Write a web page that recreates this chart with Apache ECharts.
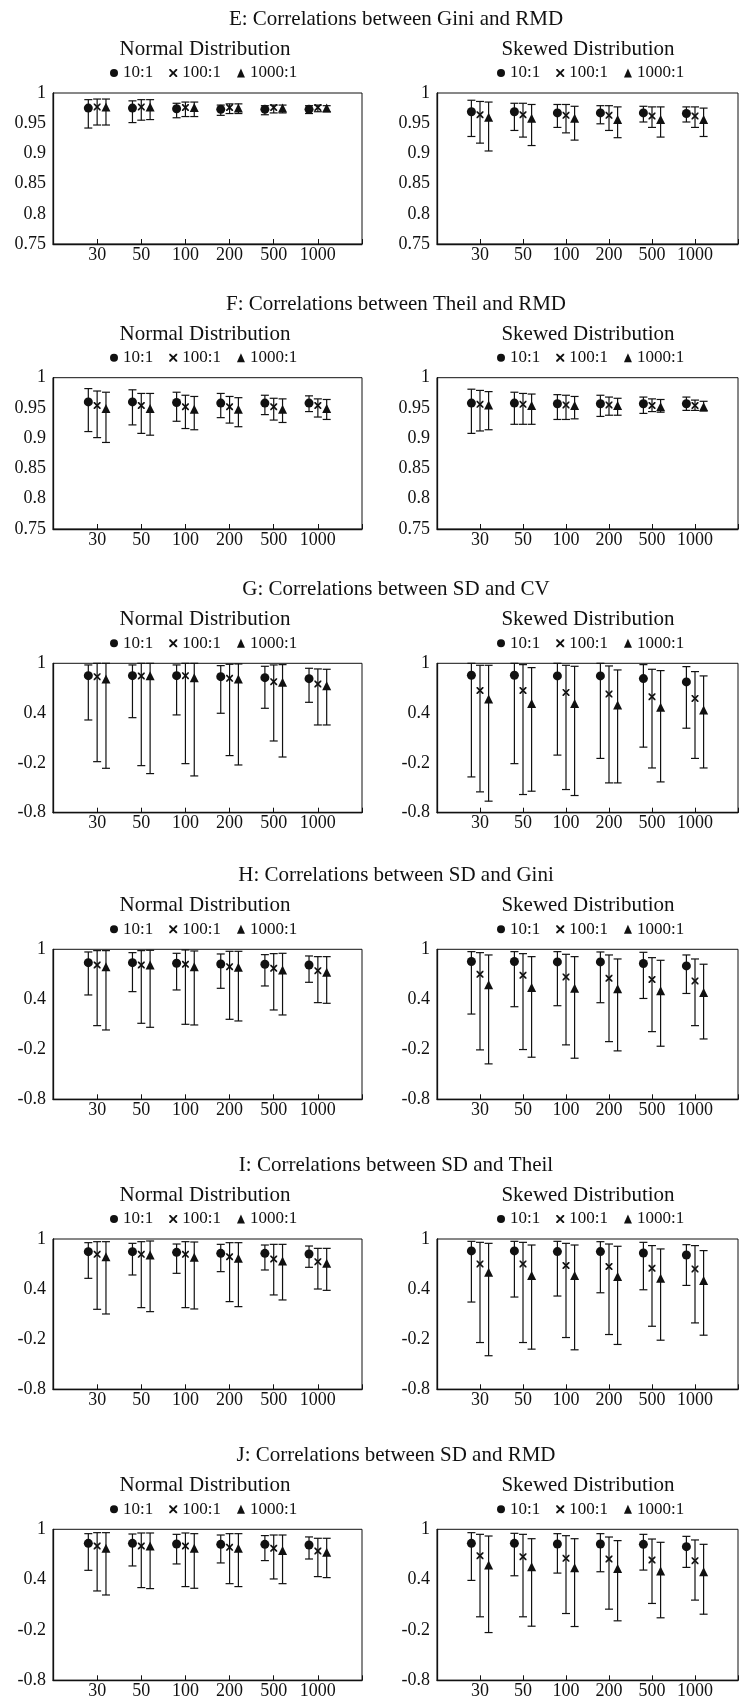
<!DOCTYPE html>
<html>
<head>
<meta charset="utf-8">
<script src="https://cdn.jsdelivr.net/npm/echarts@6/dist/echarts.min.js"></script>
<style>
html,body{margin:0;padding:0;background:#fff;}
#chart{width:741px;height:1705px;}
</style>
</head>
<body>
<div id="chart"></div>
<script>
// ---------- DATA ----------
const CATS = ['30', '50', '100', '200', '500', '1000'];
const RATIOS = ['10:1', '100:1', '1000:1'];
const PANEL_TITLES = ['Normal Distribution', 'Skewed Distribution'];
const SECTION_TITLES = [
  'E: Correlations between Gini and RMD',
  'F: Correlations between Theil and RMD',
  'G: Correlations between SD and CV',
  'H: Correlations between SD and Gini',
  'I: Correlations between SD and Theil',
  'J: Correlations between SD and RMD'
];
const Y_TICKS_HIGH = ['0.75', '0.8', '0.85', '0.9', '0.95', '1'];
const Y_TICKS_WIDE = ['-0.8', '-0.2', '0.4', '1'];

// each entry: [mean, lower, upper] per sample size
const E_N_10   = [[0.975,0.942,0.989],[0.975,0.951,0.987],[0.974,0.959,0.983],[0.973,0.963,0.980],[0.973,0.964,0.979],[0.973,0.966,0.979]];
const E_N_100  = [[0.977,0.947,0.990],[0.977,0.955,0.989],[0.976,0.961,0.985],[0.976,0.966,0.982],[0.976,0.967,0.980],[0.976,0.969,0.980]];
const E_N_1000 = [[0.977,0.947,0.990],[0.977,0.956,0.989],[0.976,0.961,0.985],[0.975,0.966,0.982],[0.975,0.967,0.980],[0.975,0.969,0.979]];
const E_S_10   = [[0.969,0.928,0.988],[0.969,0.938,0.983],[0.967,0.943,0.981],[0.967,0.949,0.979],[0.967,0.952,0.978],[0.966,0.952,0.977]];
const E_S_100  = [[0.964,0.917,0.986],[0.964,0.927,0.983],[0.963,0.934,0.981],[0.963,0.938,0.979],[0.962,0.943,0.977],[0.962,0.943,0.977]];
const E_S_1000 = [[0.960,0.904,0.985],[0.958,0.913,0.981],[0.958,0.922,0.978],[0.956,0.926,0.977],[0.956,0.927,0.977],[0.956,0.928,0.975]];

const F_N_10   = [[0.960,0.911,0.982],[0.960,0.922,0.980],[0.959,0.928,0.976],[0.958,0.934,0.974],[0.958,0.939,0.971],[0.958,0.944,0.970]];
const F_N_100  = [[0.954,0.901,0.978],[0.954,0.908,0.974],[0.952,0.916,0.971],[0.952,0.925,0.969],[0.952,0.930,0.966],[0.954,0.935,0.965]];
const F_N_1000 = [[0.949,0.893,0.976],[0.949,0.905,0.974],[0.948,0.914,0.969],[0.948,0.919,0.967],[0.948,0.926,0.965],[0.949,0.931,0.964]];
const F_S_10   = [[0.958,0.908,0.981],[0.958,0.923,0.976],[0.957,0.931,0.972],[0.957,0.936,0.971],[0.957,0.941,0.968],[0.957,0.946,0.968]];
const F_S_100  = [[0.956,0.912,0.979],[0.956,0.923,0.974],[0.955,0.931,0.971],[0.955,0.938,0.968],[0.954,0.944,0.965],[0.954,0.946,0.963]];
const F_S_1000 = [[0.955,0.914,0.977],[0.954,0.923,0.973],[0.954,0.932,0.969],[0.954,0.938,0.966],[0.952,0.943,0.964],[0.952,0.945,0.961]];

const G_N_10   = [[0.851,0.317,0.980],[0.851,0.345,0.980],[0.851,0.378,0.980],[0.839,0.398,0.972],[0.827,0.458,0.964],[0.815,0.530,0.940]];
const G_N_100  = [[0.839,-0.185,1.0],[0.847,-0.233,1.0],[0.851,-0.209,1.0],[0.819,-0.112,0.988],[0.779,0.064,0.980],[0.751,0.257,0.932]];
const G_N_1000 = [[0.811,-0.265,1.0],[0.851,-0.329,1.0],[0.827,-0.357,1.0],[0.811,-0.225,0.992],[0.771,-0.129,0.984],[0.731,0.257,0.928]];
const G_S_10   = [[0.856,-0.369,1.0],[0.856,-0.209,1.0],[0.848,-0.106,1.0],[0.848,-0.146,1.0],[0.816,-0.010,0.984],[0.776,0.218,0.960]];
const G_S_100  = [[0.673,-0.549,0.976],[0.673,-0.581,0.984],[0.649,-0.521,0.976],[0.629,-0.441,0.968],[0.597,-0.261,0.928],[0.577,-0.146,0.900]];
const G_S_1000 = [[0.569,-0.661,0.976],[0.517,-0.541,0.948],[0.517,-0.593,0.964],[0.497,-0.441,0.920],[0.469,-0.429,0.912],[0.437,-0.261,0.848]];

const H_N_10   = [[0.840,0.452,0.968],[0.840,0.492,0.960],[0.832,0.512,0.952],[0.824,0.532,0.944],[0.820,0.560,0.936],[0.812,0.604,0.920]];
const H_N_100  = [[0.812,0.084,0.984],[0.812,0.112,0.984],[0.820,0.100,0.992],[0.792,0.160,0.976],[0.772,0.272,0.948],[0.744,0.360,0.912]];
const H_N_1000 = [[0.792,0.032,0.984],[0.812,0.064,0.988],[0.792,0.092,0.980],[0.784,0.140,0.976],[0.752,0.212,0.952],[0.724,0.352,0.912]];
const H_S_10   = [[0.853,0.223,0.972],[0.853,0.311,0.972],[0.849,0.323,0.972],[0.849,0.359,0.968],[0.829,0.410,0.964],[0.801,0.470,0.932]];
const H_S_100  = [[0.701,-0.207,0.960],[0.689,-0.203,0.948],[0.669,-0.147,0.940],[0.653,-0.108,0.932],[0.637,0.012,0.900],[0.621,0.084,0.884]];
const H_S_1000 = [[0.574,-0.375,0.932],[0.542,-0.295,0.912],[0.534,-0.307,0.912],[0.526,-0.219,0.884],[0.502,-0.163,0.868],[0.482,-0.076,0.821]];

const I_N_10   = [[0.848,0.529,0.956],[0.848,0.569,0.948],[0.840,0.589,0.940],[0.828,0.609,0.936],[0.828,0.629,0.928],[0.820,0.661,0.916]];
const I_N_100  = [[0.816,0.158,0.968],[0.816,0.178,0.968],[0.816,0.178,0.968],[0.788,0.250,0.956],[0.761,0.330,0.936],[0.729,0.401,0.888]];
const I_N_1000 = [[0.788,0.102,0.968],[0.808,0.130,0.976],[0.781,0.162,0.964],[0.769,0.190,0.956],[0.737,0.270,0.936],[0.709,0.385,0.888]];
const I_S_10   = [[0.857,0.245,0.972],[0.857,0.305,0.972],[0.849,0.317,0.972],[0.849,0.356,0.968],[0.833,0.392,0.960],[0.809,0.444,0.932]];
const I_S_100  = [[0.702,-0.240,0.960],[0.702,-0.240,0.960],[0.682,-0.180,0.948],[0.670,-0.144,0.940],[0.650,-0.045,0.921],[0.642,-0.005,0.921]];
const I_S_1000 = [[0.603,-0.398,0.948],[0.563,-0.319,0.928],[0.563,-0.327,0.928],[0.551,-0.263,0.913],[0.531,-0.212,0.881],[0.503,-0.152,0.861]];

const J_N_10   = [[0.833,0.511,0.948],[0.833,0.563,0.944],[0.825,0.587,0.940],[0.821,0.599,0.932],[0.821,0.627,0.925],[0.813,0.646,0.909]];
const J_N_100  = [[0.801,0.265,0.960],[0.801,0.305,0.956],[0.801,0.317,0.956],[0.785,0.352,0.948],[0.774,0.408,0.932],[0.742,0.436,0.893]];
const J_N_1000 = [[0.774,0.217,0.960],[0.801,0.293,0.956],[0.774,0.297,0.948],[0.774,0.317,0.948],[0.746,0.352,0.932],[0.726,0.424,0.893]];
const J_S_10   = [[0.833,0.391,0.960],[0.833,0.446,0.952],[0.825,0.478,0.948],[0.825,0.494,0.948],[0.821,0.514,0.940],[0.793,0.546,0.916]];
const J_S_100  = [[0.685,-0.043,0.940],[0.673,-0.043,0.940],[0.654,-0.004,0.924],[0.646,0.048,0.908],[0.634,0.116,0.884],[0.626,0.156,0.873]];
const J_S_1000 = [[0.574,-0.231,0.920],[0.554,-0.155,0.888],[0.542,-0.159,0.888],[0.534,-0.091,0.865],[0.502,-0.055,0.845],[0.494,-0.012,0.821]];

// ---------- LAYOUT / STYLE ----------
const FONT = '"Liberation Serif", "DejaVu Serif", serif';
const INK = '#111';
const GRID_TOPS = [93, 377.7, 663.3, 949.3, 1239, 1529.3];
const GRID_HEIGHTS = [151, 151.3, 149.4, 150, 150.3, 151];
const PANEL_LEFT = [53, 437];
const PANEL_WIDTH = 309;
const SUB_X = [205, 588];
const LEG_LEFT = [110, 497];
const OFFSETS = [-0.2, 0, 0.2];
const XPATH = 'path://M0,0 L1.7,0 L5,3.3 L8.3,0 L10,0 L10,1.7 L6.7,5 L10,8.3 L10,10 L8.3,10 L5,6.7 L1.7,10 L0,10 L0,8.3 L3.3,5 L0,1.7 Z';
const SYMBOLS = ['circle', XPATH, 'triangle'];
const SIZES = [9, 7, 9];
const LEG_ICONS = ['circle', XPATH, 'triangle'];

const sections = [
  { title: SECTION_TITLES[0], ticks: Y_TICKS_HIGH, panels: [[E_N_10, E_N_100, E_N_1000], [E_S_10, E_S_100, E_S_1000]] },
  { title: SECTION_TITLES[1], ticks: Y_TICKS_HIGH, panels: [[F_N_10, F_N_100, F_N_1000], [F_S_10, F_S_100, F_S_1000]] },
  { title: SECTION_TITLES[2], ticks: Y_TICKS_WIDE, panels: [[G_N_10, G_N_100, G_N_1000], [G_S_10, G_S_100, G_S_1000]] },
  { title: SECTION_TITLES[3], ticks: Y_TICKS_WIDE, panels: [[H_N_10, H_N_100, H_N_1000], [H_S_10, H_S_100, H_S_1000]] },
  { title: SECTION_TITLES[4], ticks: Y_TICKS_WIDE, panels: [[I_N_10, I_N_100, I_N_1000], [I_S_10, I_S_100, I_S_1000]] },
  { title: SECTION_TITLES[5], ticks: Y_TICKS_WIDE, panels: [[J_N_10, J_N_100, J_N_1000], [J_S_10, J_S_100, J_S_1000]] }
];

function renderErr(params, api) {
  const x = api.value(0), lo = api.value(1), hi = api.value(2);
  const a = api.coord([x, lo]);
  const b = api.coord([x, hi]);
  const cap = 4;
  const st = { stroke: INK, lineWidth: 1.2 };
  return {
    type: 'group',
    children: [
      { type: 'line', shape: { x1: a[0], y1: a[1], x2: b[0], y2: b[1] }, style: st },
      { type: 'line', shape: { x1: a[0] - cap, y1: a[1], x2: a[0] + cap, y2: a[1] }, style: st },
      { type: 'line', shape: { x1: b[0] - cap, y1: b[1], x2: b[0] + cap, y2: b[1] }, style: st }
    ]
  };
}

const grid = [], xAxis = [], yAxis = [], series = [], legend = [], graphic = [];

sections.forEach((sec, si) => {
  const T = GRID_TOPS[si], H = GRID_HEIGHTS[si];
  graphic.push({
    type: 'text', x: 396, y: T - 73.5, silent: true,
    style: { text: sec.title, fontFamily: FONT, fontSize: 21, fill: INK,
             textAlign: 'center', textVerticalAlign: 'middle', align: 'center', verticalAlign: 'middle' }
  });
  const tmin = parseFloat(sec.ticks[0]);
  const tmax = parseFloat(sec.ticks[sec.ticks.length - 1]);
  const tint = Math.round((parseFloat(sec.ticks[1]) - tmin) * 1000) / 1000;
  sec.panels.forEach((panel, pi) => {
    const gi = si * 2 + pi;
    graphic.push({
      type: 'text', x: SUB_X[pi], y: T - 43.5, silent: true,
      style: { text: PANEL_TITLES[pi], fontFamily: FONT, fontSize: 21, fill: INK,
               textAlign: 'center', textVerticalAlign: 'middle', align: 'center', verticalAlign: 'middle' }
    });
    grid.push({ left: PANEL_LEFT[pi], top: T, width: PANEL_WIDTH, height: H,
                show: true, borderColor: INK, borderWidth: 1, backgroundColor: 'transparent' });
    xAxis.push({
      type: 'value', gridIndex: gi, min: 0, max: CATS.length + 1, interval: 1,
      axisLine: { show: true, onZero: false, lineStyle: { color: INK, width: 1.3 } },
      axisTick: { show: true, inside: true, length: 5, lineStyle: { color: INK } },
      axisLabel: { margin: 2, fontFamily: FONT, fontSize: 18, color: INK,
                   formatter: v => (CATS[Math.round(v) - 1] !== undefined ? CATS[Math.round(v) - 1] : '') },
      splitLine: { show: false }
    });
    yAxis.push({
      type: 'value', gridIndex: gi, min: tmin, max: tmax, interval: tint,
      axisLine: { show: true, onZero: false, lineStyle: { color: INK, width: 1.3 } },
      axisTick: { show: false },
      axisLabel: { margin: 7, fontFamily: FONT, fontSize: 18, color: INK,
                   formatter: v => { const t = sec.ticks.find(s => Math.abs(parseFloat(s) - v) < 1e-6); return t === undefined ? '' : t; } },
      splitLine: { show: false }
    });
    legend.push({
      left: LEG_LEFT[pi], top: T - 18.5 - 10, orient: 'horizontal',
      padding: 0, itemWidth: 8, itemHeight: 9, itemGap: 16, selectedMode: false,
      textStyle: { fontFamily: FONT, fontSize: 17, color: INK },
      data: RATIOS.map((n, k) => ({ name: n, icon: LEG_ICONS[k] }))
    });
    panel.forEach((arr, k) => {
      series.push({
        type: 'custom', name: RATIOS[k] + ' range', xAxisIndex: gi, yAxisIndex: gi,
        renderItem: renderErr, silent: true, z: 2, animation: false,
        encode: { x: 0, y: [1, 2] },
        data: arr.map((d, i) => [i + 1 + OFFSETS[k], d[1], d[2]])
      });
      series.push({
        type: 'scatter', name: RATIOS[k], xAxisIndex: gi, yAxisIndex: gi,
        symbol: SYMBOLS[k], symbolSize: SIZES[k], z: 3, animation: false,
        itemStyle: { color: INK, opacity: 1 },
        data: arr.map((d, i) => [i + 1 + OFFSETS[k], d[0]])
      });
    });
  });
});

const chart = echarts.init(document.getElementById('chart'), null, { renderer: 'canvas' });
chart.setOption({
  animation: false,
  backgroundColor: '#fff',
  textStyle: { fontFamily: FONT },
  grid, xAxis, yAxis, legend, series, graphic
});
</script>
</body>
</html>
